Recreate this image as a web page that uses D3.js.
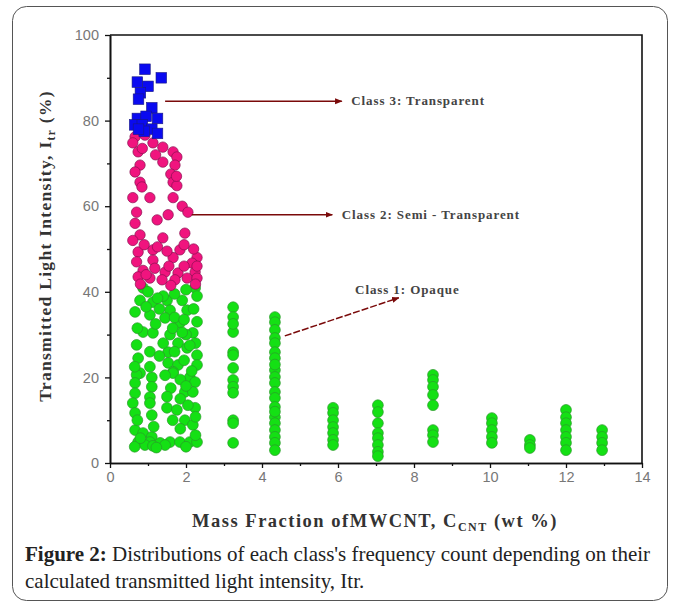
<!DOCTYPE html>
<html>
<head>
<meta charset="utf-8">
<script src="https://cdn.jsdelivr.net/npm/d3@7"></script>
<style>
  body { margin: 0; background: #fff; }
  svg { display: block; }
</style>
</head>
<body>
<div id="chart"></div>
<script>
// class 3 - transparent (blue squares)
var transparentPts = [
  [0.92,92],[1.35,90],[0.72,89],[1.0,88],[0.8,86.5],[0.75,85],[1.1,83],[0.72,80.5],
  [0.95,81],[1.25,80.5],[0.65,79],[0.85,79],[1.1,78],[1.25,77],[0.9,77.5],[0.75,78]
]
// class 2 - semi transparent (pink circles)
var semiPts = [
  [0.66,76.2],[0.92,76.6],[0.6,74.8],[1.13,74.8],[1.39,73.8],[0.74,72.7],[1.66,72.7],[1.76,71.5],
  [1.39,70.3],[0.79,69.6],[1.71,69.6],[0.66,68],[1.6,67.5],[1.66,65.6],[0.79,65.6],[0.84,64.5],
  [1.76,64.8],[0.6,62],[1.05,62],[1.66,62],[1.9,60],[0.7,58.6],[1.24,56.8],[1.53,58],
  [2.05,58.6],[0.66,56],[0.79,53.3],[1.39,52.6],[1.97,53.7],[0.74,49.3],[1.13,49.8],[1.84,49.8],
  [2.29,48],[0.7,47],[1.13,47.4],[1.66,48],[2.16,46.7],[0.87,45],[1.18,45.5],[1.45,44.6],
  [1.79,44.4],[2.24,44.6],[0.74,43.5],[1.05,43.2],[1.37,42.8],[1.71,42.8],[2.03,43.2],[2.29,43.2],
  [2.29,46],[2.2,50],[1.95,51],[0.6,52],[0.85,73.5],[1.2,72],[1.75,67],[0.95,44],
  [1.55,46],[1.95,46],[2.25,41.8],[0.8,41.8],[1.6,41.5],[1.25,50.5],[0.9,51],[1.5,49.5]
]
// class 1 - opaque (green circles)
var opaquePts = [
  [0.87,40.9],[2.24,40.9],[0.79,38],[1.13,37.6],[1.5,38],[1.9,38],[2.29,39],[1.58,35.7],
  [2.03,35.7],[0.66,35.3],[1.05,34.6],[1.45,33.9],[2.29,33],[1.84,32.7],[0.87,30.6],[1.13,30.4],
  [1.58,30],[2.18,30.4],[0.7,27.6],[1.79,28],[2.03,26.9],[1.53,25.9],[2.29,25.2],[0.74,24.5],
  [1.53,23.4],[1.79,22.9],[2.29,22.9],[0.79,21],[1.66,21.3],[0.7,20.6],[1.1,20],[1.66,21],
  [2.1,20],[0.66,18.7],[1.1,17.8],[2.24,18.9],[1.97,16.6],[2.18,16.6],[0.66,16.3],[1.05,15.4],
  [0.6,14],[1.05,14],[1.5,12.9],[1.76,12.4],[2.24,12.9],[0.66,11.7],[1.1,11.2],[1.97,10],
  [2.18,8.9],[0.66,7.7],[0.87,7],[1.1,6.1],[0.74,4.9],[1.05,4.9],[1.32,4.7],[1.58,4.9],
  [1.84,4.9],[2.1,4.9],[2.29,4.9],[0.92,4.2],[1.13,4.0],[2.0,30],[1.3,36],[1.7,34],
  [1.4,39],[1.7,39.5],[2.0,40.5],[1.95,33.5],[2.2,36],[1.65,31.5],[1.9,30.5],[2.25,28],
  [1.7,26],[1.95,24],[2.15,21.5],[1.85,19.5],[1.6,17.5],[1.85,15],[2.05,13.5],[1.65,10],
  [1.85,8],[2.25,6.5],[1.45,4.2],[0.65,3.8],[0.8,5.8],[1.22,3.6],[2.0,3.8],[1.45,20.5],
  [1.4,28],[0.95,36.5],[0.72,31.5],[1.05,26],[0.72,10],[1.25,38.5],[1.0,40],[0.65,22.5],
  [1.05,22.5],[2.25,10.8],[2.1,27.5],[1.5,15.5],[1.3,25],[1.2,32.5],[2.0,18],[1.15,8.5],
  [3.24,36.4],[3.24,34.1],[3.24,30.6],[3.24,25.9],[3.24,25.2],[3.24,22.2],[3.24,19.4],[3.24,17.8],
  [3.24,16.4],[3.24,10],[3.24,9.3],[3.24,4.7],[3.24,32.5],
  [4.34,34.1],[4.34,32.9],[4.34,31.1],[4.34,29.2],[4.34,28],[4.34,25.9],[4.34,24.5],[4.34,21.7],
  [4.34,20.1],[4.34,18.7],[4.34,16.6],[4.34,15.2],[4.34,13.1],[4.34,10.7],[4.34,9.3],[4.34,7.7],
  [4.34,6.1],[4.34,4.7],[4.34,3.0],[4.34,23],[4.34,12],
  [5.87,12.9],[5.87,11.7],[5.87,10],[5.87,8.4],[5.87,7],[5.87,5.4],[5.87,4.2],
  [7.05,13.5],[7.05,11.9],[7.05,9.3],[7.05,7],[7.05,5.8],[7.05,4.2],[7.05,2.6],[7.05,1.6],
  [8.5,20.6],[8.5,19.4],[8.5,17.8],[8.5,15.9],[8.5,13.5],[8.5,7.7],[8.5,6.5],[8.5,4.9],
  [10.05,10.5],[10.05,9.3],[10.05,7.7],[10.05,6.1],[10.05,4.7],
  [11.05,5.4],[11.05,4.2],[11.05,3.5],
  [12.0,12.4],[12.0,10.7],[12.0,9.3],[12.0,7.7],[12.0,6.1],[12.0,4.7],[12.0,3.0],
  [12.95,7.7],[12.95,6.1],[12.95,4.7],[12.95,3.0]
]
var xTicks = [0,2,4,6,8,10,12,14]
var yTicks = [0,20,40,60,80,100]
// annotations: label, point the arrow starts at, arrow end
var notes = [
  {label:"Class 3: Transparent", from:[1.45,84.5], to:[6.1,84.5]},
  {label:"Class 2: Semi - Transparent", from:[2.15,58], to:[5.85,58]},
  {label:"Class 1: Opaque", from:[4.6,29.7], to:[7.6,38.6], dashed:true, text:[6.45,40.5]}
]

var W = 673, H = 605
var svg = d3.select("#chart").append("svg").attr("width",W).attr("height",H)

// rounded frame
svg.append("rect").attr("x",12.5).attr("y",6.5).attr("width",655).attr("height",594)
  .attr("rx",14).attr("fill","none").attr("stroke","#555").attr("stroke-width",1)

var plotL = 110, plotR = 642, plotT = 35, plotB = 463
var x = d3.scaleLinear().domain([0,14]).range([plotL,plotR])
var y = d3.scaleLinear().domain([0,100]).range([plotB,plotT])

var defs = svg.append("defs")
defs.append("marker").attr("id","arr").attr("viewBox","0 0 10 10")
  .attr("refX",9).attr("refY",5).attr("markerWidth",5).attr("markerHeight",5)
  .attr("orient","auto")
  .append("path").attr("d","M0,1 L10,5 L0,9 Z").attr("fill","#7a0a0a")

// axes
var xAxis = svg.append("g").attr("transform","translate(0,"+plotB+")")
  .call(d3.axisBottom(x).tickValues(xTicks).tickSize(5).tickSizeOuter(0).tickPadding(4))
var xMinor = svg.append("g").attr("transform","translate(0,"+plotB+")")
  .call(d3.axisBottom(x).tickValues(d3.range(1,14,2)).tickSize(3).tickSizeOuter(0).tickFormat(""))
var yAxis = svg.append("g").attr("transform","translate("+plotL+",0)")
  .call(d3.axisLeft(y).tickValues(yTicks).tickSize(5).tickSizeOuter(0).tickPadding(6))
var yMinor = svg.append("g").attr("transform","translate("+plotL+",0)")
  .call(d3.axisLeft(y).tickValues(d3.range(10,100,20)).tickSize(3).tickSizeOuter(0).tickFormat(""))

svg.selectAll(".domain").attr("stroke","#111").attr("stroke-width",1.6)
svg.selectAll(".tick line").attr("stroke","#111").attr("stroke-width",1.3)
svg.selectAll(".tick text").attr("fill","#777").attr("font-family","Liberation Sans, Arial, sans-serif")
  .attr("font-size",14.5)

// top and right border
svg.append("path").attr("d","M"+plotL+","+plotT+"H"+plotR+"V"+plotB)
  .attr("fill","none").attr("stroke","#111").attr("stroke-width",1.6)

// points
var pts = svg.append("g")
pts.selectAll(".op").data(opaquePts).enter().append("circle").attr("class","op")
  .attr("cx",function(d){return x(d[0])}).attr("cy",function(d){return y(d[1])}).attr("r",5.4)
  .attr("fill","#14e014").attr("stroke","#2b9a2b").attr("stroke-width",0.7)
pts.selectAll(".semi").data(semiPts).enter().append("circle").attr("class","semi")
  .attr("cx",function(d){return x(d[0])}).attr("cy",function(d){return y(d[1])}).attr("r",5.2)
  .attr("fill","#f0147e").attr("stroke","#8a1050").attr("stroke-width",0.7)
pts.selectAll(".tr").data(transparentPts).enter().append("rect").attr("class","tr")
  .attr("x",function(d){return x(d[0])-5.3}).attr("y",function(d){return y(d[1])-5.3})
  .attr("width",10.6).attr("height",10.6)
  .attr("fill","#0a0af0").attr("stroke","#1a1a80").attr("stroke-width",0.6)

// annotations
var ann = svg.append("g")
notes.forEach(function(n){
  ann.append("line").attr("x1",x(n.from[0])).attr("y1",y(n.from[1]))
    .attr("x2",x(n.to[0])).attr("y2",y(n.to[1]))
    .attr("stroke","#7a0a0a").attr("stroke-width",1.5)
    .attr("stroke-dasharray",n.dashed ? "7,2" : null)
    .attr("marker-end","url(#arr)")
  var tp = n.text || [n.to[0]+0.25, n.to[1]]
  ann.append("text").attr("x",x(tp[0])).attr("y",y(tp[1])+4)
    .attr("font-family","Liberation Serif, Times New Roman, serif").attr("font-weight","bold")
    .attr("font-size",13).attr("letter-spacing",0.9).attr("fill","#444").text(n.label)
})

// axis titles
var xt = svg.append("text").attr("x",375).attr("y",527).attr("text-anchor","middle")
  .attr("font-family","Liberation Serif, Times New Roman, serif").attr("font-weight","bold")
  .attr("font-size",18.5).attr("letter-spacing",1.5).attr("fill","#333")
xt.append("tspan").text("Mass Fraction ofMWCNT, C")
xt.append("tspan").attr("font-size",12).attr("dy",4).text("CNT")
xt.append("tspan").attr("dy",-4).text(" (wt %)")

var yt = svg.append("text").attr("transform","translate(51,246) rotate(-90)").attr("text-anchor","middle")
  .attr("font-family","Liberation Serif, Times New Roman, serif").attr("font-weight","bold")
  .attr("font-size",17.5).attr("letter-spacing",1.3).attr("fill","#333")
yt.append("tspan").text("Transmitted Light Intensity, I")
yt.append("tspan").attr("font-size",11.5).attr("dy",4).text("tr")
yt.append("tspan").attr("dy",-4).text(" (%)")

// caption
var cap = svg.append("g").attr("font-family","Liberation Serif, Times New Roman, serif")
  .attr("font-size",21).attr("fill","#222")
var l1 = cap.append("text").attr("x",25).attr("y",561)
l1.append("tspan").attr("font-weight","bold").text("Figure 2:")
l1.append("tspan").text(" Distributions of each class's frequency count depending on their")
cap.append("text").attr("x",25).attr("y",588).text("calculated transmitted light intensity, Itr.")
</script>
</body>
</html>
